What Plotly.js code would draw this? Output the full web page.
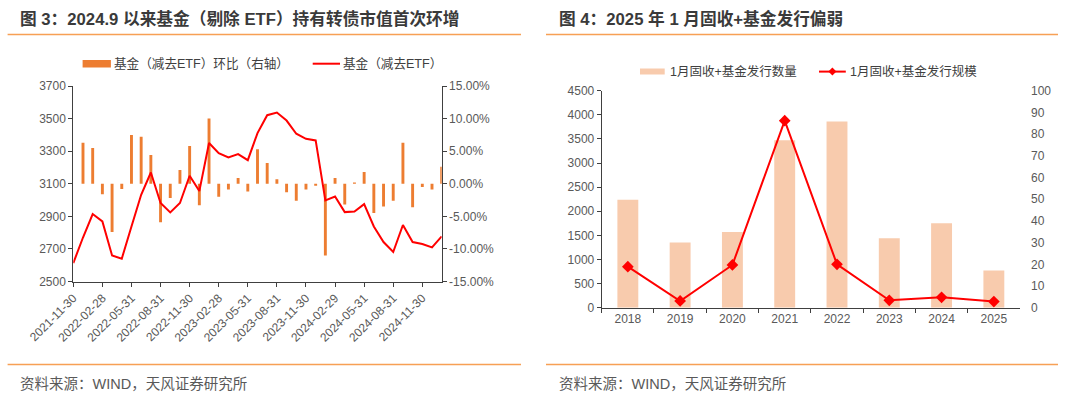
<!DOCTYPE html>
<html>
<head>
<meta charset="utf-8">
<script src="https://cdn.plot.ly/plotly-3.0.1.min.js"></script>
<style>html,body{margin:0;padding:0;background:#fff;}#chart{width:1080px;height:397px;}</style>
</head>
<body>
<div id="chart"></div>
<script>
// ---------- data: left chart ----------
const dates = ['2021-11-30','2021-12-31','2022-01-31','2022-02-28','2022-03-31','2022-04-30','2022-05-31','2022-06-30','2022-07-31','2022-08-31','2022-09-30','2022-10-31','2022-11-30','2022-12-31','2023-01-31','2023-02-28','2023-03-31','2023-04-30','2023-05-31','2023-06-30','2023-07-31','2023-08-31','2023-09-30','2023-10-31','2023-11-30','2023-12-31','2024-01-31','2024-02-29','2024-03-31','2024-04-30','2024-05-31','2024-06-30','2024-07-31','2024-08-31','2024-09-30','2024-10-31','2024-11-30','2024-12-31','2025-01-31'];
const fundValue = [2613,2770,2914,2869,2660,2640,2838,3032,3169,2982,2924,2982,3149,3055,3350,3288,3261,3282,3245,3411,3521,3537,3488,3407,3376,3366,2998,3022,2926,2930,2975,2838,2742,2681,2847,2742,2730,2709,2777];
const fundMoM = [null,0.063,0.055,-0.016,-0.074,-0.008,0.075,0.072,0.044,-0.059,-0.022,0.021,0.058,-0.033,0.100,-0.020,-0.009,0.009,-0.012,0.053,0.032,0.007,-0.013,-0.026,-0.009,-0.003,-0.110,0.009,-0.032,0.002,0.018,-0.045,-0.035,-0.026,0.063,-0.036,-0.005,-0.009,0.026];
const tickDates = ['2021-11-30','2022-02-28','2022-05-31','2022-08-31','2022-11-30','2023-02-28','2023-05-31','2023-08-31','2023-11-30','2024-02-29','2024-05-31','2024-08-31','2024-11-30'];
const pctTickVals = [-0.15,-0.10,-0.05,0,0.05,0.10,0.15];
const pctTickText = ['-15.00%','-10.00%','-5.00%','0.00%','5.00%','10.00%','15.00%'];

// ---------- data: right chart ----------
const years = ['2018','2019','2020','2021','2022','2023','2024','2025'];
const issueCount = [2240,1350,1570,3470,3860,1440,1750,770];
const issueScale = [18.9,3.1,19.7,86.2,20.0,3.4,4.8,2.8];

// ---------- texts ----------
const title1 = '图 3：2024.9 以来基金（剔除 ETF）持有转债市值首次环增';
const title2 = '图 4：2025 年 1 月固收+基金发行偏弱';
const legBar1 = '基金（减去ETF）环比（右轴）';
const legLine1 = '基金（减去ETF）';
const legBar2 = '1月固收+基金发行数量';
const legLine2 = '1月固收+基金发行规模';
const source = '资料来源：WIND，天风证券研究所';

const W = 1080, H = 397;
const px = x => x / W;
const py = y => 1 - y / H;
const FONT = 'Liberation Sans, "Noto Sans CJK SC", Arial, sans-serif';
const AXC = '#404040';
const TXC = '#595959';
const ORANGE_LINE = '#F7A055';

const traces = [
  {type:'bar', x:dates, y:fundMoM, xaxis:'x', yaxis:'y', width:0.3,
   marker:{color:'#ED7D31'}, name:legBar1, showlegend:false, hoverinfo:'x+y'},
  {type:'scatter', mode:'lines', x:dates, y:fundValue, xaxis:'x', yaxis:'y2',
   line:{color:'#FF0000', width:2}, name:legLine1, showlegend:false},
  {type:'bar', x:years, y:issueCount, xaxis:'x2', yaxis:'y3', width:0.4,
   marker:{color:'#F8CBAD'}, name:legBar2, showlegend:false},
  {type:'scatter', mode:'lines+markers', x:years, y:issueScale, xaxis:'x2', yaxis:'y4',
   line:{color:'#FF0000', width:2}, marker:{symbol:'diamond', size:9, color:'#FF0000'},
   name:legLine2, showlegend:false}
];

const tickFont = {family:FONT, size:12, color:TXC};
const axBase = {showgrid:false, zeroline:false, showline:true, linecolor:AXC, linewidth:1,
  ticks:'outside', ticklen:4, tickcolor:AXC, tickfont:tickFont, fixedrange:true};

const shapes = [];
const annotations = [];
function hline(x0,x1,y,color,w){ shapes.push({type:'line', xref:'paper', yref:'paper', x0:px(x0), x1:px(x1), y0:py(y), y1:py(y), line:{color:color, width:w}}); }
function rect(x0,x1,y0,y1,color){ shapes.push({type:'rect', xref:'paper', yref:'paper', x0:px(x0), x1:px(x1), y0:py(y1), y1:py(y0), fillcolor:color, line:{width:0}}); }
function text(t,x,y,size,color,bold){ annotations.push({xref:'paper', yref:'paper', x:px(x), y:py(y), xanchor:'left', yanchor:'middle', showarrow:false, text: bold ? '<b>'+t+'</b>' : t, font:{family:FONT, size:size, color:color}}); }

// titles + separators
text(title1, 18, 19, 16.7, '#3A3A3A', true);
text(title2, 557, 19, 16.7, '#3A3A3A', true);
hline(7.6, 521, 34.4, ORANGE_LINE, 1.5);
hline(546, 1058, 34.4, ORANGE_LINE, 1.5);
hline(7.6, 521, 364.5, ORANGE_LINE, 1.5);
hline(546, 1058, 364.5, ORANGE_LINE, 1.5);
text(source, 18, 383.5, 14.5, TXC, false);
text(source, 557, 383.5, 14.5, TXC, false);

// left legend
rect(82.6, 110.9, 60, 67.5, '#ED7D31');
text(legBar1, 112, 63.7, 12.6, '#404040', false);
hline(312.7, 340, 63.7, '#FF0000', 2);
text(legLine1, 341, 63.7, 12.6, '#404040', false);

// right legend
rect(640, 664.7, 68.5, 74.5, '#F8CBAD');
text(legBar2, 667.5, 71.6, 12.5, '#404040', false);
hline(819, 845.8, 71.6, '#FF0000', 2);
shapes.push({type:'path', xref:'paper', yref:'paper',
  path:'M '+px(832.4-4)+' '+py(71.6)+' L '+px(832.4)+' '+py(71.6-4)+' L '+px(832.4+4)+' '+py(71.6)+' L '+px(832.4)+' '+py(71.6+4)+' Z',
  fillcolor:'#FF0000', line:{width:0}});
text(legLine2, 847.5, 71.6, 12.5, '#404040', false);

const layout = {
  width:W, height:H, margin:{l:0, r:0, t:0, b:0},
  paper_bgcolor:'#ffffff', plot_bgcolor:'rgba(0,0,0,0)',
  showlegend:false, font:{family:FONT, color:TXC},
  xaxis: Object.assign({}, axBase, {domain:[px(73.3), px(441.7)], anchor:'y', type:'category',
    range:[0, 38], tickmode:'array', tickvals:tickDates, ticktext:tickDates, tickangle:-45}),
  yaxis: Object.assign({}, axBase, {domain:[py(281.5), py(86)], anchor:'x', side:'right',
    range:[-0.15, 0.15], tickmode:'array', tickvals:pctTickVals, ticktext:pctTickText}),
  yaxis2: Object.assign({}, axBase, {overlaying:'y', anchor:'x', side:'left',
    range:[2500, 3700], tick0:2500, dtick:200}),
  xaxis2: Object.assign({}, axBase, {domain:[px(601.7), px(1020)], anchor:'y3', type:'category',
    range:[-0.5, 7.5], tickson:'boundaries'}),
  yaxis3: Object.assign({}, axBase, {domain:[py(307.7), py(90.7)], anchor:'x2',
    range:[0, 4500], tick0:0, dtick:500}),
  yaxis4: Object.assign({}, axBase, {overlaying:'y3', anchor:'x2', side:'right', showline:false,
    ticks:'', ticklabelstandoff:10, range:[0, 100], tick0:0, dtick:10}),
  bargap:0.5,
  shapes:shapes, annotations:annotations
};

Plotly.newPlot('chart', traces, layout, {displayModeBar:false, staticPlot:true});
</script>
</body>
</html>
